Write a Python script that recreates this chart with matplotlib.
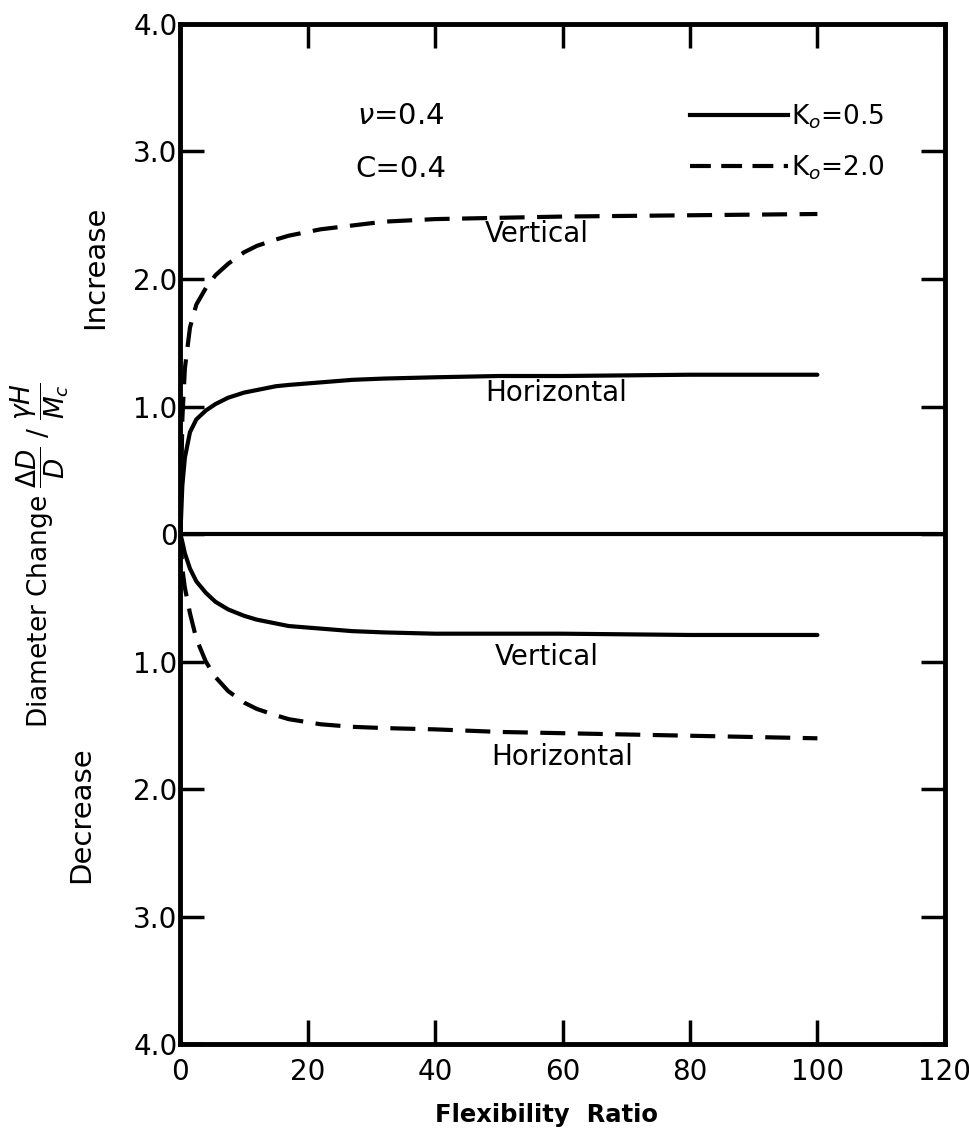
import matplotlib
matplotlib.use('Agg')
import matplotlib.pyplot as plt
from matplotlib.lines import Line2D

# values
flex = [0, 0.3, 0.7, 1.5, 2.5, 4, 5.5, 7.5, 10, 12, 15, 17, 22, 27, 32, 40, 50, 60, 80, 100]

# K0 = 0.5 (solid)
k05_horizontal = [0, 0.38, 0.60, 0.80, 0.90, 0.97, 1.02, 1.07, 1.11, 1.13, 1.16, 1.17, 1.19, 1.21, 1.22, 1.23, 1.24, 1.24, 1.25, 1.25]
k05_vertical = [0, -0.06, -0.15, -0.27, -0.37, -0.46, -0.53, -0.59, -0.64, -0.67, -0.70, -0.72, -0.74, -0.76, -0.77, -0.78, -0.78, -0.78, -0.79, -0.79]

# K0 = 2.0 (dashed)
k20_vertical = [0, 0.9, 1.3, 1.62, 1.80, 1.93, 2.03, 2.12, 2.21, 2.26, 2.31, 2.34, 2.39, 2.42, 2.45, 2.47, 2.48, 2.49, 2.50, 2.51]
k20_horizontal = [0, -0.27, -0.42, -0.62, -0.82, -1.00, -1.12, -1.23, -1.32, -1.37, -1.42, -1.45, -1.49, -1.51, -1.52, -1.53, -1.55, -1.56, -1.58, -1.60]

x_ticks = [0, 20, 40, 60, 80, 100, 120]
y_ticks = [-4, -3, -2, -1, 0, 1, 2, 3, 4]
y_tick_labels = ['4.0', '3.0', '2.0', '1.0', '0', '1.0', '2.0', '3.0', '4.0']

plt.rcParams['font.family'] = ['DejaVu Sans']

fig = plt.figure(figsize=(9.7, 11.39), dpi=100)
ax = fig.add_axes([0.186, 0.083, 0.788, 0.896])

lw = 3.0
dash = (0, (6, 3))
ax.plot(flex, k05_horizontal, color='black', lw=lw, solid_capstyle='round')
ax.plot(flex, k05_vertical, color='black', lw=lw, solid_capstyle='round')
ax.plot(flex, k20_vertical, color='black', lw=lw, linestyle=dash)
ax.plot(flex, k20_horizontal, color='black', lw=lw, linestyle=dash)
ax.axhline(0, color='black', lw=lw)

ax.set_xlim(0, 120)
ax.set_ylim(-4, 4)
ax.set_xticks(x_ticks)
ax.set_yticks(y_ticks)
ax.set_yticklabels(y_tick_labels)

for s in ax.spines.values():
    s.set_linewidth(3.5)

ax.tick_params(axis='both', direction='in', length=17, width=2.5, labelsize=20, pad=4)
ax.tick_params(axis='x', top=True, pad=10)
ax.tick_params(axis='y', right=True, pad=2)

# annotations
ax.text(27.8, 3.28, r'$\nu$=0.4', fontsize=21, va='center')
ax.text(27.5, 2.86, 'C=0.4', fontsize=21, va='center')
ax.text(56, 2.35, 'Vertical', fontsize=20, ha='center', va='center')
ax.text(59, 1.11, 'Horizontal', fontsize=20, ha='center', va='center')
ax.text(57.5, -0.96, 'Vertical', fontsize=20, ha='center', va='center')
ax.text(60, -1.75, 'Horizontal', fontsize=20, ha='center', va='center')

handles = [Line2D([], [], color='black', lw=lw),
           Line2D([], [], color='black', lw=lw, linestyle=(0, (5, 2.5)))]
ax.legend(handles, [r'K$_o$=0.5', r'K$_o$=2.0'], loc='upper left',
          bbox_to_anchor=(0.667, 0.923), frameon=False, fontsize=19,
          handlelength=3.7, handletextpad=0.1, labelspacing=0.85,
          borderpad=0, borderaxespad=0)

fig.text(0.098, 0.765, 'Increase', rotation=90, fontsize=21, ha='center', va='center')
fig.text(0.084, 0.285, 'Decrease', rotation=90, fontsize=21, ha='center', va='center')
fig.text(0.041, 0.513, r'Diameter Change $\dfrac{\Delta D}{D}$ / $\dfrac{\gamma H}{M_c}$',
         rotation=90, fontsize=19, ha='center', va='center')
fig.text(0.563, 0.021, 'Flexibility  Ratio', fontsize=17.5, fontweight='bold', ha='center', va='center')

fig.savefig('out.png', dpi=100)
